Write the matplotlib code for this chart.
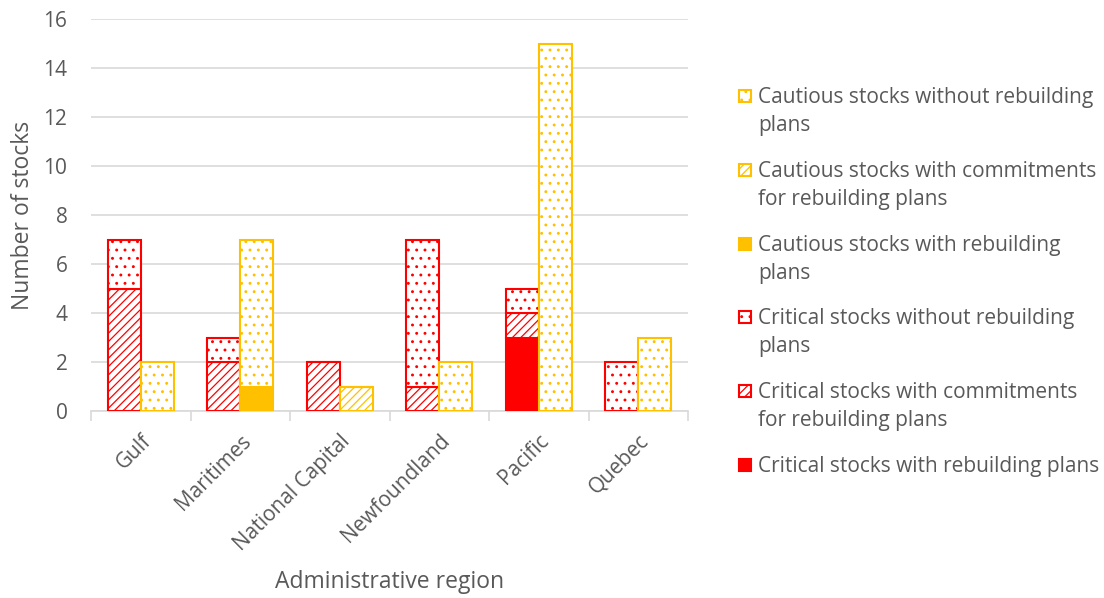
#!/usr/bin/env python3
"""Stock status by administrative region: critical vs cautious, stacked by plan status."""

import matplotlib

matplotlib.use("Agg")
import matplotlib.pyplot as plt
import numpy as np
from matplotlib.patches import Rectangle

regions = ["Gulf", "Maritimes", "National Capital", "Newfoundland", "Pacific", "Quebec"]

# critical stocks (left bar), bottom -> top
crit_with = [0, 0, 0, 0, 3, 0]
crit_commit = [5, 2, 2, 1, 1, 0]
crit_without = [2, 1, 0, 6, 1, 2]

# cautious stocks (right bar), bottom -> top
caut_with = [0, 1, 0, 0, 0, 0]
caut_commit = [0, 0, 1, 0, 0, 0]
caut_without = [2, 6, 0, 2, 15, 3]

legend_labels = [
    ["Cautious stocks without rebuilding", "plans"],
    ["Cautious stocks with commitments", "for rebuilding plans"],
    ["Cautious stocks with rebuilding", "plans"],
    ["Critical stocks without rebuilding", "plans"],
    ["Critical stocks with commitments", "for rebuilding plans"],
    ["Critical stocks with rebuilding plans"],
]

RED = "#FF0000"
GOLD = "#FFC000"
GREY = "#595959"

plt.rcParams["font.family"] = ["Open Sans", "DejaVu Sans"]
plt.rcParams["hatch.linewidth"] = 0.9

W, H = 1104, 598
fig = plt.figure(figsize=(W / 100, H / 100), dpi=100)
ax = fig.add_axes([91 / W, 1 - 411 / H, (688 - 91) / W, (411 - 19) / H])

x = np.arange(len(regions))
w = 0.33


def stack(xpos, layers, color):
    bottom = np.zeros(len(regions))
    for vals, hatch, filled in layers:
        vals = np.array(vals, dtype=float)
        ax.bar(xpos, vals, w, bottom=bottom, color=color if filled else "white",
               edgecolor=color, hatch=hatch, lw=1.5, zorder=3)
        bottom += vals


stack(x - w / 2, [(crit_with, None, True), (crit_commit, "////", False),
                  (crit_without, "..", False)], RED)
stack(x + w / 2, [(caut_with, None, True), (caut_commit, "////", False),
                  (caut_without, "..", False)], GOLD)

ax.set_xlim(-0.5, len(regions) - 0.5)
ax.set_ylim(0, 16)
ax.set_yticks(range(0, 17, 2))
ax.yaxis.grid(True, color="#D9D9D9", lw=1.2, zorder=0)
ax.set_axisbelow(True)
for s in ["top", "right", "left"]:
    ax.spines[s].set_visible(False)
ax.spines["bottom"].set_color("#D9D9D9")
ax.spines["bottom"].set_linewidth(1.2)

ax.set_xticks(x)
ax.set_xticklabels(regions, rotation=45, ha="right", rotation_mode="anchor")
ax.set_xticks(np.arange(-0.5, len(regions)), minor=True)
ax.tick_params(axis="x", which="major", length=0, pad=14, labelsize=15, labelcolor=GREY)
ax.tick_params(axis="x", which="minor", length=7, color="#D9D9D9", width=1.2)
ax.tick_params(axis="y", length=0, pad=17, labelsize=15, labelcolor=GREY)

ax.set_ylabel("Number of stocks", fontsize=16.5, color=GREY, labelpad=6)
ax.set_xlabel("Administrative region", fontsize=16.5, color=GREY, labelpad=11)

# legend drawn by hand so the swatch sits on the first text line, like the original
styles = [("..", False, GOLD), ("////", False, GOLD), (None, True, GOLD),
          ("..", False, RED), ("////", False, RED), (None, True, RED)]
base0, step, line_h = 103, 73.8, 28
for i, ((hatch, filled, col), lines) in enumerate(zip(styles, legend_labels)):
    base = base0 + i * step
    fig.add_artist(Rectangle((739 / W, 1 - (base - 1) / H), 12 / W, 12 / H,
                             transform=fig.transFigure, facecolor=col if filled else "white",
                             edgecolor=col, hatch=hatch, lw=1.5))
    for j, line in enumerate(lines):
        fig.text(758 / W, 1 - (base + j * line_h) / H, line, fontsize=15,
                 color=GREY, ha="left", va="baseline")

fig.savefig("out.png", dpi=100)
